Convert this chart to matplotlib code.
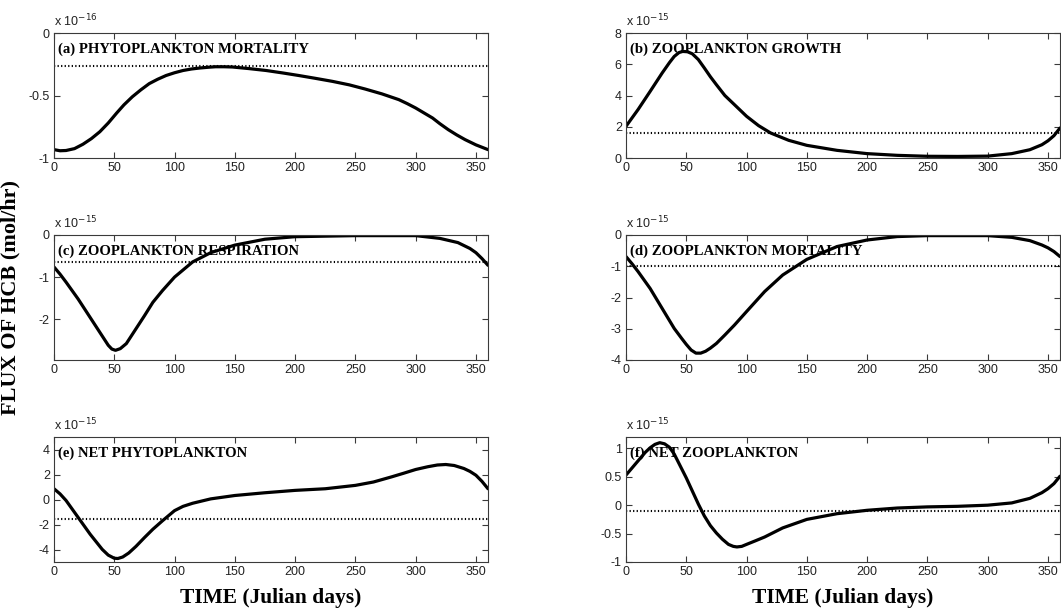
import matplotlib
matplotlib.use("Agg")
import matplotlib.pyplot as plt

# ---- data (values in units of the panel's exponent) ----
days_a = [0, 5, 10, 17, 24, 31, 38, 45, 52, 58, 65, 72, 79, 86, 93, 100, 107, 114, 121, 128, 134, 141, 148,
          162, 176, 190, 203, 217, 231, 245, 258, 272, 286, 293, 300, 307, 314, 320, 327, 334, 341, 350, 360]
vals_a = [-0.933, -0.942, -0.94, -0.925, -0.89, -0.845, -0.79, -0.72, -0.64, -0.575, -0.51, -0.455, -0.405,
          -0.37, -0.34, -0.318, -0.30, -0.288, -0.28, -0.274, -0.27, -0.27, -0.272, -0.285, -0.30, -0.32, -0.34,
          -0.363, -0.387, -0.415, -0.448, -0.487, -0.533, -0.565, -0.60, -0.64, -0.68, -0.725, -0.773, -0.815,
          -0.853, -0.895, -0.933]
mean_a = -0.26

days_b = [0, 10, 20, 30, 36, 40, 44, 47, 51, 55, 60, 65, 70, 75, 82, 90, 100, 110, 120, 135, 150, 175, 200,
          225, 250, 275, 300, 320, 335, 345, 350, 355, 360]
vals_b = [2.03, 3.1, 4.26, 5.44, 6.1, 6.5, 6.75, 6.82, 6.8, 6.67, 6.3, 5.76, 5.2, 4.69, 4.0, 3.41, 2.67, 2.07,
          1.6, 1.13, 0.81, 0.49, 0.28, 0.17, 0.11, 0.10, 0.12, 0.28, 0.53, 0.85, 1.1, 1.43, 1.92]
mean_b = 1.6

days_c = [0, 5, 10, 20, 30, 40, 45, 48, 51, 55, 60, 65, 75, 82, 90, 100, 115, 130, 150, 175, 200, 250, 300,
          320, 335, 345, 350, 355, 360]
vals_c = [-0.76, -0.93, -1.12, -1.52, -1.96, -2.4, -2.62, -2.71, -2.74, -2.7, -2.58, -2.36, -1.92, -1.6, -1.32,
          -1.0, -0.64, -0.42, -0.24, -0.10, -0.04, -0.015, -0.015, -0.08, -0.18, -0.32, -0.42, -0.56, -0.72]
mean_c = -0.64

days_d = [0, 5, 10, 20, 30, 40, 46, 50, 54, 58, 62, 66, 70, 75, 82, 90, 100, 115, 130, 150, 175, 200, 225, 250,
          300, 320, 335, 345, 350, 355, 360]
vals_d = [-0.69, -0.92, -1.17, -1.71, -2.35, -2.99, -3.3, -3.5, -3.68, -3.78, -3.78, -3.72, -3.62, -3.47, -3.2,
          -2.88, -2.45, -1.81, -1.28, -0.78, -0.37, -0.16, -0.05, -0.02, -0.02, -0.075, -0.18, -0.32, -0.41,
          -0.53, -0.69]
mean_d = -1.0

days_e = [0, 5, 10, 20, 30, 40, 45, 50, 53, 57, 62, 68, 75, 82, 90, 100, 107, 115, 130, 150, 175, 200, 225,
          250, 265, 280, 290, 300, 310, 318, 325, 332, 340, 345, 350, 355, 360]
vals_e = [0.86, 0.45, -0.08, -1.43, -2.78, -3.99, -4.45, -4.7, -4.72, -4.6, -4.28, -3.75, -3.05, -2.38, -1.7,
          -0.89, -0.55, -0.3, 0.05, 0.32, 0.54, 0.73, 0.86, 1.13, 1.4, 1.81, 2.1, 2.4, 2.62, 2.76, 2.8, 2.72,
          2.48, 2.25, 1.94, 1.45, 0.86]
mean_e = -1.56

days_f = [0, 10, 16, 20, 24, 28, 32, 36, 40, 45, 50, 55, 60, 65, 70, 75, 80, 85, 89, 92, 96, 100, 107, 115,
          130, 150, 175, 200, 225, 250, 275, 300, 320, 335, 345, 350, 355, 360]
vals_f = [0.53, 0.78, 0.93, 1.01, 1.07, 1.1, 1.08, 1.02, 0.9, 0.69, 0.48, 0.25, 0.02, -0.19, -0.36, -0.49,
          -0.6, -0.69, -0.725, -0.735, -0.725, -0.69, -0.63, -0.56, -0.4, -0.25, -0.15, -0.09, -0.05, -0.03,
          -0.02, 0.0, 0.04, 0.12, 0.22, 0.29, 0.38, 0.51]
mean_f = -0.106

titles = ["(a) PHYTOPLANKTON MORTALITY", "(b) ZOOPLANKTON GROWTH", "(c) ZOOPLANKTON RESPIRATION",
          "(d) ZOOPLANKTON MORTALITY", "(e) NET PHYTOPLANKTON", "(f) NET ZOOPLANKTON"]
exponents = [-16, -15, -15, -15, -15, -15]
ylims = [(-1, 0), (0, 8), (-2.97, 0), (-4, 0), (-5, 5), (-1, 1.2)]
yticks = [[-1, -0.5, 0], [0, 2, 4, 6, 8], [-2, -1, 0], [-4, -3, -2, -1, 0], [-4, -2, 0, 2, 4],
          [-1, -0.5, 0, 0.5, 1]]
yticklabels = [["-1", "-0.5", "0"], ["0", "2", "4", "6", "8"], ["-2", "-1", "0"], ["-4", "-3", "-2", "-1", "0"],
               ["-4", "-2", "0", "2", "4"], ["-1", "-0.5", "0", "0.5", "1"]]
xticks = [0, 50, 100, 150, 200, 250, 300, 350]

series = [(days_a, vals_a, mean_a), (days_b, vals_b, mean_b), (days_c, vals_c, mean_c),
          (days_d, vals_d, mean_d), (days_e, vals_e, mean_e), (days_f, vals_f, mean_f)]

W, H = 1061, 613
fig = plt.figure(figsize=(W / 100, H / 100), dpi=100)

lefts = [54, 626]
width = 434
tops = [33, 235, 437]
height = 125

serif = "Liberation Serif"
sans = "Liberation Sans"
axcol = "#3a3a3a"

for i, (d, v, m) in enumerate(series):
    r, c = divmod(i, 2)
    x0 = lefts[c] / W
    y0 = 1 - (tops[r] + height) / H
    ax = fig.add_axes([x0, y0, width / W, height / H])
    ax.plot(d, v, color="black", lw=2.3, solid_capstyle="round", solid_joinstyle="round")
    ax.axhline(m, color="black", lw=1.5, linestyle=(0, (0.6, 1.1)))
    ax.set_xlim(0, 360)
    ax.set_ylim(*ylims[i])
    ax.set_xticks(xticks)
    ax.set_xticklabels([str(t) for t in xticks])
    ax.set_yticks(yticks[i])
    ax.set_yticklabels(yticklabels[i])
    ax.tick_params(direction="in", length=4, width=0.8, top=True, right=True, colors=axcol,
                   labelsize=9, labelcolor="#222222", pad=3)
    for lab in ax.get_xticklabels() + ax.get_yticklabels():
        lab.set_fontfamily(sans)
    for s in ax.spines.values():
        s.set_color(axcol)
        s.set_linewidth(0.8)
    ax.text(0.0, 1.03, "x 10$^{%d}$" % exponents[i], transform=ax.transAxes, ha="left", va="bottom",
            fontsize=9, family=sans, color="#222222")
    ax.text(0.01, 0.87, titles[i], transform=ax.transAxes, ha="left", va="center",
            fontsize=10.6, family=serif, fontweight="bold")

fig.text(0.010, 0.515, "FLUX OF HCB (mol/hr)", rotation=90, ha="center", va="center",
         fontsize=16, family=serif, fontweight="bold")
for c in range(2):
    cx = (lefts[c] + width / 2) / W
    fig.text(cx, 1 - 598 / H, "TIME (Julian days)", ha="center", va="center",
             fontsize=15.5, family=serif, fontweight="bold")

fig.savefig("out.png", dpi=100)
